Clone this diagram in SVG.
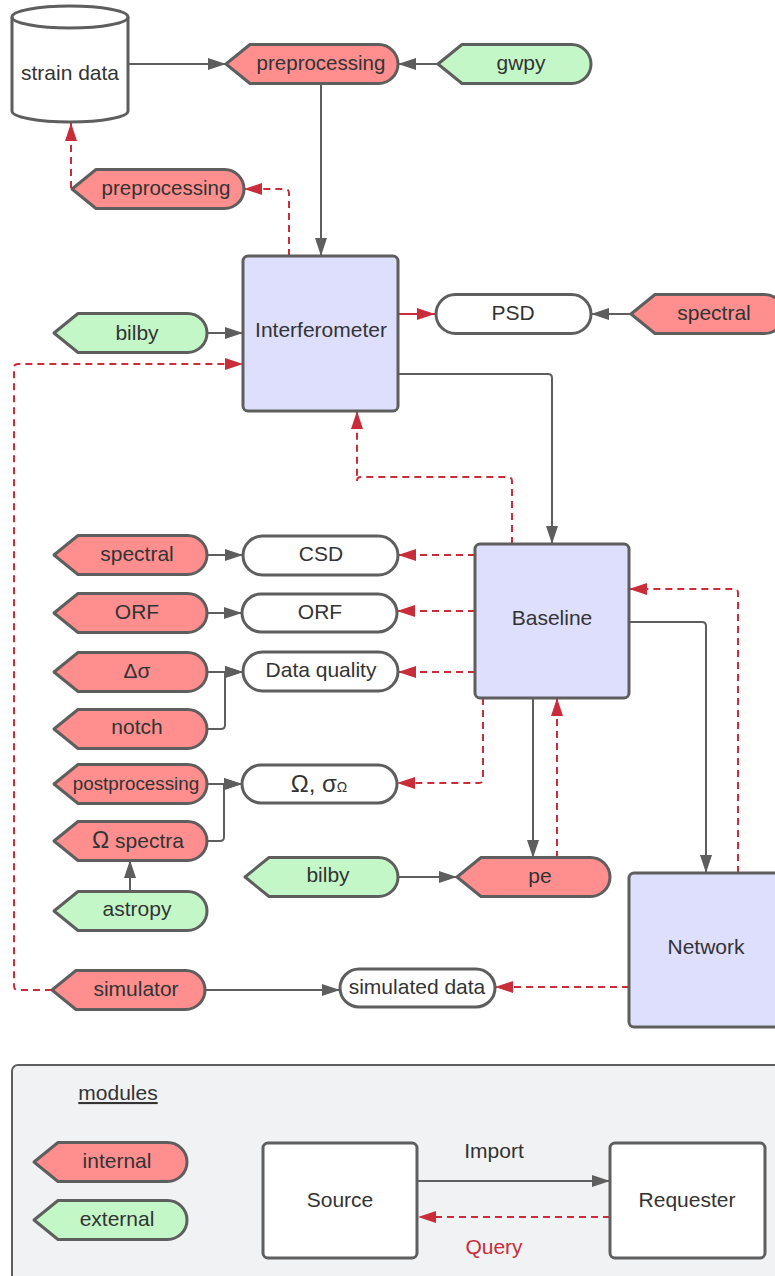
<svg xmlns="http://www.w3.org/2000/svg" xmlns:xlink="http://www.w3.org/1999/xlink" width="775" height="1276" viewBox="0 0 775 1276">
<style>
text{font-family:"Liberation Sans",Arial,sans-serif;font-size:21px;fill:#333;text-anchor:middle}
.node{stroke:#5e5e5e;stroke-width:3;stroke-linejoin:round}
.int{fill:#ff8f8f}
.ext{fill:#c3f7c8}
.cls{fill:#dedffd}
.obj{fill:#fff}
.con{fill:none;stroke:#5e5e5e;stroke-width:2}
.red{fill:none;stroke:#c92d39;stroke-width:2}
.dash{stroke-dasharray:7 5}
</style>
<defs>
<path id="tag153" d="M0,0 L24,-19.5 L133.5,-19.5 A19.5,19.5 0 0 1 133.5,19.5 L24,19.5 Z"/>
<path id="tag172" d="M0,0 L24,-19.5 L152.5,-19.5 A19.5,19.5 0 0 1 152.5,19.5 L24,19.5 Z"/>
<marker id="ag" markerUnits="userSpaceOnUse" markerWidth="18" markerHeight="12" refX="18" refY="6" orient="auto"><path d="M0,0 L18,6 L0,12 Z" fill="#5e5e5e"/></marker>
<marker id="ar" markerUnits="userSpaceOnUse" markerWidth="18" markerHeight="12" refX="18" refY="6" orient="auto"><path d="M0,0 L18,6 L0,12 Z" fill="#c92d39"/></marker>
</defs>

<g id="legend">
<rect x="12" y="1065" width="790" height="240" rx="6" fill="#f1f2f4" stroke="#5e5e5e" stroke-width="2"/>
<text x="118" y="1100" style="text-decoration:underline">modules</text>
</g>

<g id="connectors">
<path class="con" d="M129,64 H226" marker-end="url(#ag)"/>
<path class="con" d="M438,64 H398" marker-end="url(#ag)"/>
<path class="con" d="M321,84 V256" marker-end="url(#ag)"/>
<path class="red dash" d="M289,256 V193 Q289,189 285,189 H244" marker-end="url(#ar)"/>
<path class="red dash" d="M71,188 V123" marker-end="url(#ar)"/>
<path class="con" d="M207,333 H243" marker-end="url(#ag)"/>
<path class="red dash" d="M52,990 H18 Q14,990 14,986 V368 Q14,364 18,364 H243" marker-end="url(#ar)"/>
<path class="red" d="M398,314 H435" marker-end="url(#ar)"/>
<path class="con" d="M631,314 H591" marker-end="url(#ag)"/>
<path class="con" d="M398,374 H548 Q552,374 552,378 V544" marker-end="url(#ag)"/>
<path class="red dash" d="M512,544 V481 Q512,477 508,477 H361 Q357,477 357,481 V411" marker-end="url(#ar)"/>
<path class="red dash" d="M475,555 H398" marker-end="url(#ar)"/>
<path class="red dash" d="M475,611 H397" marker-end="url(#ar)"/>
<path class="red dash" d="M475,672 H398" marker-end="url(#ar)"/>
<path class="con" d="M206,555 H243" marker-end="url(#ag)"/>
<path class="con" d="M206,613 H242" marker-end="url(#ag)"/>
<path class="con" d="M206,672 H243" marker-end="url(#ag)"/>
<path class="con" d="M206,729 H221 Q225,729 225,725 V672 H243" marker-end="url(#ag)"/>
<path class="red dash" d="M483,698 V779 Q483,783 479,783 H397" marker-end="url(#ar)"/>
<path class="con" d="M206,784 H242" marker-end="url(#ag)"/>
<path class="con" d="M206,841 H220 Q224,841 224,837 V784 H242" marker-end="url(#ag)"/>
<path class="con" d="M130,891 V860" marker-end="url(#ag)"/>
<path class="con" d="M397,877 H457" marker-end="url(#ag)"/>
<path class="con" d="M533,698 V858" marker-end="url(#ag)"/>
<path class="red dash" d="M557,858 V698" marker-end="url(#ar)"/>
<path class="con" d="M629,622 H702 Q706,622 706,626 V873" marker-end="url(#ag)"/>
<path class="red dash" d="M738,873 V593 Q738,589 734,589 H629" marker-end="url(#ar)"/>
<path class="red dash" d="M629,987 H495" marker-end="url(#ar)"/>
<path class="con" d="M206,990 H340" marker-end="url(#ag)"/>
<path class="con" d="M417,1181 H610" marker-end="url(#ag)"/>
<path class="red dash" d="M610,1217 H418" marker-end="url(#ar)"/>
</g>

<g id="strain-data">
<path class="node obj" d="M12,17 A58,11 0 0 1 128,17 L128,111 A58,11 0 0 1 12,111 Z"/>
<path class="node" fill="none" d="M12,17 A58,11 0 0 0 128,17"/>
<text x="70" y="80">strain data</text>
</g>
<g id="preprocessing-top">
<use xlink:href="#tag172" href="#tag172" x="226" y="64" class="node int"/>
<text x="321" y="70" style="font-size:20.5px">preprocessing</text>
</g>
<g id="gwpy">
<use xlink:href="#tag153" href="#tag153" x="438" y="64" class="node ext"/>
<text x="521" y="70">gwpy</text>
</g>
<g id="preprocessing-out">
<use xlink:href="#tag172" href="#tag172" x="72" y="189" class="node int"/>
<text x="166" y="195" style="font-size:20.5px">preprocessing</text>
</g>
<g id="interferometer">
<rect x="243" y="256" width="155" height="155" rx="5" class="node cls"/>
<text x="321" y="337">Interferometer</text>
</g>
<g id="bilby-ifo">
<use xlink:href="#tag153" href="#tag153" x="54" y="333" class="node ext"/>
<text x="137" y="340">bilby</text>
</g>
<g id="psd">
<rect x="436" y="294.5" width="155" height="39" rx="19.5" class="node obj"/>
<text x="513" y="320">PSD</text>
</g>
<g id="spectral-psd">
<use xlink:href="#tag153" href="#tag153" x="631" y="314" class="node int"/>
<text x="714" y="320">spectral</text>
</g>
<g id="baseline">
<rect x="475" y="544" width="154" height="154" rx="5" class="node cls"/>
<text x="552" y="625">Baseline</text>
</g>
<g id="csd">
<rect x="243" y="536" width="155" height="39" rx="19.5" class="node obj"/>
<text x="321" y="561">CSD</text>
</g>
<g id="spectral-csd">
<use xlink:href="#tag153" href="#tag153" x="54" y="555" class="node int"/>
<text x="137" y="561">spectral</text>
</g>
<g id="orf">
<rect x="242" y="594" width="155" height="38" rx="19" class="node obj"/>
<text x="320" y="619">ORF</text>
</g>
<g id="orf-module">
<use xlink:href="#tag153" href="#tag153" x="54" y="613" class="node int"/>
<text x="137" y="619">ORF</text>
</g>
<g id="data-quality">
<rect x="243" y="652" width="155" height="39" rx="19.5" class="node obj"/>
<text x="321" y="677">Data quality</text>
</g>
<g id="delta-sigma">
<use xlink:href="#tag153" href="#tag153" x="54" y="672" class="node int"/>
<text x="137" y="678">Δσ</text>
</g>
<g id="notch">
<use xlink:href="#tag153" href="#tag153" x="54" y="729" class="node int"/>
<text x="137" y="734">notch</text>
</g>
<g id="omega-sigma">
<rect x="242" y="765" width="155" height="38" rx="19" class="node obj"/>
<text x="319" y="792" style="font-size:24px">Ω, σ<tspan style="font-size:14px">Ω</tspan></text>
</g>
<g id="postprocessing">
<use xlink:href="#tag153" href="#tag153" x="54" y="784" class="node int"/>
<text x="136" y="790" style="font-size:18.8px">postprocessing</text>
</g>
<g id="omega-spectra">
<use xlink:href="#tag153" href="#tag153" x="54" y="841" class="node int"/>
<text x="138" y="848"><tspan style="font-size:23px">Ω</tspan> spectra</text>
</g>
<g id="astropy">
<use xlink:href="#tag153" href="#tag153" x="54" y="911" class="node ext"/>
<text x="137" y="916">astropy</text>
</g>
<g id="bilby-pe">
<use xlink:href="#tag153" href="#tag153" x="245" y="877" class="node ext"/>
<text x="328" y="882">bilby</text>
</g>
<g id="pe">
<use xlink:href="#tag153" href="#tag153" x="457" y="877" class="node int"/>
<text x="540" y="883">pe</text>
</g>
<g id="network">
<rect x="629" y="873" width="160" height="154" rx="5" class="node cls"/>
<text x="706" y="954">Network</text>
</g>
<g id="simulated-data">
<rect x="340" y="969" width="155" height="38" rx="19" class="node obj"/>
<text x="417" y="994">simulated data</text>
</g>
<g id="simulator">
<use xlink:href="#tag153" href="#tag153" x="52" y="990" class="node int"/>
<text x="136" y="996">simulator</text>
</g>

<g id="legend-internal">
<use xlink:href="#tag153" href="#tag153" x="34" y="1162" class="node int"/>
<text x="117" y="1168">internal</text>
</g>
<g id="legend-external">
<use xlink:href="#tag153" href="#tag153" x="34" y="1220" class="node ext"/>
<text x="117" y="1226">external</text>
</g>
<g id="legend-source">
<rect x="263" y="1143" width="154" height="115" rx="5" class="node obj"/>
<text x="340" y="1207">Source</text>
</g>
<g id="legend-requester">
<rect x="610" y="1143" width="155" height="115" rx="5" class="node obj"/>
<text x="687" y="1207">Requester</text>
</g>
<g id="legend-labels">
<text x="494" y="1158">Import</text>
<text x="494" y="1254" style="fill:#c92d39">Query</text>
</g>
</svg>
